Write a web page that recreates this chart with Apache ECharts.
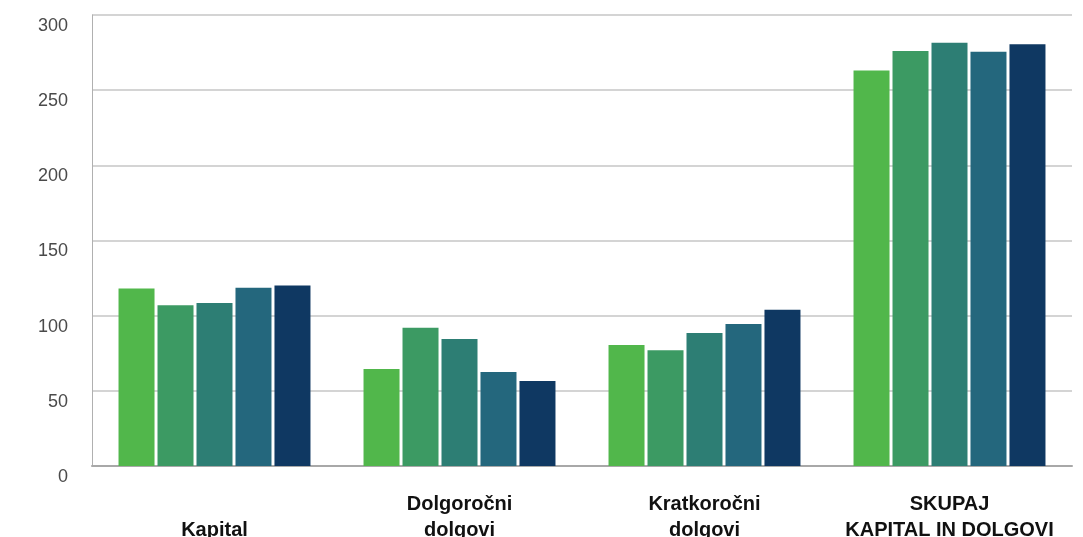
<!DOCTYPE html>
<html>
<head>
<meta charset="utf-8">
<script src="https://cdn.jsdelivr.net/npm/echarts@6/dist/echarts.min.js"></script>
<style>
  html, body { margin: 0; padding: 0; background: #fff; }
  #chart { width: 1083px; height: 537px; }
</style>
</head>
<body>
<div id="chart"></div>
<script>
// Categories along the x axis
const categories = ['Kapital', 'Dolgoročni\ndolgovi', 'Kratkoročni\ndolgovi', 'SKUPAJ\nKAPITAL IN DOLGOVI'];

// One series per period (five bars per group)
const period1 = [118, 64.5, 80.5, 263];
const period2 = [107, 92, 77, 276];
const period3 = [108.5, 84.5, 88.5, 281.5];
const period4 = [118.5, 62.5, 94.5, 275.5];
const period5 = [120, 56.5, 104, 280.5];

const seriesValues = [period1, period2, period3, period4, period5];
const seriesNames = ['1', '2', '3', '4', '5'];
const colors = ['#51b74b', '#3c9a63', '#2d7e74', '#24677d', '#0f3862'];

const yTicks = { min: 0, max: 300, interval: 50 };

const chart = echarts.init(document.getElementById('chart'), null, { renderer: 'canvas' });

chart.setOption({
  animation: false,
  grid: { left: 92, right: 11, top: 15, bottom: 71, containLabel: false, outerBoundsMode: 'none' },
  xAxis: {
    type: 'category',
    data: categories,
    axisTick: { show: false },
    axisLine: { show: true, lineStyle: { color: '#a8a8a8', width: 2 } },
    axisLabel: {
      interval: 0,
      margin: 77,
      verticalAlign: 'bottom',
      fontFamily: 'Liberation Sans, Arial, sans-serif',
      fontWeight: 'bold',
      fontSize: 20,
      lineHeight: 26,
      color: '#111'
    }
  },
  yAxis: {
    type: 'value',
    min: yTicks.min,
    max: yTicks.max,
    interval: yTicks.interval,
    axisTick: { show: false },
    axisLine: { show: true, lineStyle: { color: '#b0b0b0', width: 1 } },
    splitLine: { show: true, lineStyle: { color: '#c6c6c6', width: 1.5 } },
    axisLabel: {
      margin: 24,
      verticalAlign: 'top',
      padding: [2, 0, 0, 0],
      fontFamily: 'Liberation Sans, Arial, sans-serif',
      fontSize: 18,
      color: '#4a4a4a'
    }
  },
  series: seriesValues.map((vals, i) => ({
    name: seriesNames[i],
    type: 'bar',
    data: vals,
    barWidth: 36,
    barGap: '8.3%',
    itemStyle: { color: colors[i] }
  }))
});
</script>
</body>
</html>
